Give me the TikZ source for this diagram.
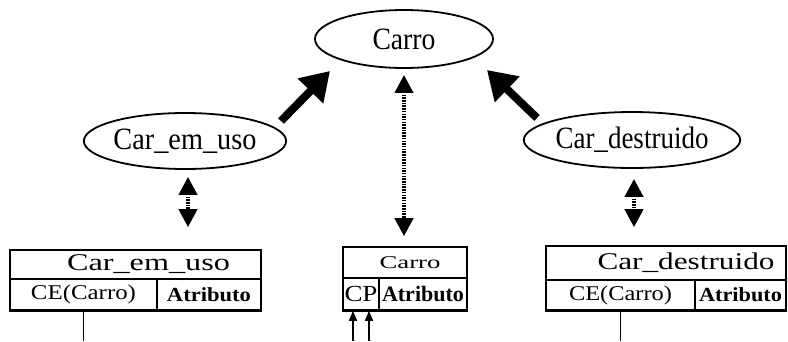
\documentclass[tikz,border=0pt]{standalone}
\usepackage{fontspec}
\setmainfont{Liberation Serif}
\usetikzlibrary{arrows.meta,shapes.geometric}
% set a label in a given font size, stretched horizontally to a given width
\newcommand{\fitto}[3]{\resizebox{#1}{\height}{\fontsize{#2}{#2}\selectfont #3}}

\begin{document}
\begin{tikzpicture}[x=1pt,y=-1pt,
  entity/.style={ellipse,draw,line width=1.8pt,inner sep=0pt},
  cell/.style={draw,rectangle,line width=1.6pt,inner sep=0pt},
  isa/.style={line width=8pt,-{Triangle[length=28pt,width=34pt]}},
  maps/.style={line width=4pt,dash pattern=on 1.5pt off 1.2pt,
    {Triangle[length=18pt,width=18pt]}-{Triangle[length=18pt,width=18pt]}},
  link/.style={line width=1.5pt},
  ref/.style={line width=1.5pt,-{Triangle[length=10pt,width=8pt]}}]
\useasboundingbox[fill=white] (0,0) rectangle (788,341);

% entity ellipses
\node[entity,minimum width=178pt,minimum height=58pt] (carro) at (404,39)
  {\fitto{63pt}{31}{Carro}};
\node[entity,minimum width=178pt,minimum height=56pt] (cu) at (185,141)
  {\fitto{143pt}{31}{Car\_em\_uso}};
\node[entity,minimum width=175pt,minimum height=56pt] (cd) at (632,140)
  {\fitto{153pt}{31}{Car\_destruido}};

% table Car_em_uso
\node[cell,minimum width=251pt,minimum height=29pt,
  label={[xshift=13pt]center:\fitto{163pt}{24}{Car\_em\_uso}}] (lhead) at (135.5,264.5) {};
\node[cell,minimum width=147pt,minimum height=31pt] (lce) at (83.5,294.5)
  {\fitto{105pt}{21}{CE(Carro)}};
\node[cell,minimum width=104pt,minimum height=31pt] (lat) at (209,294.5)
  {\fitto{84pt}{20}{\bfseries Atributo}};
\draw[line width=3pt] (lce.south west) -- (lat.south east);

% table Carro
\node[cell,minimum width=124pt,minimum height=31pt,
  label={[xshift=5pt]center:\fitto{61pt}{18}{Carro}}] (mhead) at (405,262.5) {};
\node[cell,minimum width=36pt,minimum height=32pt] (mcp) at (361,294)
  {\fitto{33pt}{23}{CP}};
\node[cell,minimum width=88pt,minimum height=32pt] (mat) at (423,294)
  {\fitto{82pt}{22}{\bfseries Atributo}};
\draw[line width=3pt] (mcp.south west) -- (mat.south east);

% table Car_destruido
\node[cell,minimum width=240pt,minimum height=34pt,
  label={[xshift=20pt]center:\fitto{177pt}{24}{Car\_destruido}}] (rhead) at (666,263) {};
\node[cell,minimum width=149pt,minimum height=30pt] (rce) at (620.5,295)
  {\fitto{103pt}{21}{CE(Carro)}};
\node[cell,minimum width=91pt,minimum height=30pt] (rat) at (740.5,295)
  {\fitto{83pt}{20}{\bfseries Atributo}};
\draw[line width=3pt] (rce.south west) -- (rat.south east);

% specialisation arrows
\coordinate (lt) at (281,121);
\coordinate (lh) at (330,71);
\coordinate (rt) at (537,118);
\coordinate (rh) at (487,70);
\draw[isa] (lt) -- (lh);
\draw[isa] (rt) -- (rh);

% entity to table mappings
\draw[maps,shorten <=6pt,shorten >=10pt] (carro.south) -- (carro.south |- mhead.north);
\draw[maps,shorten <=7pt,shorten >=22pt] ([xshift=3pt]cu.south) -- ([xshift=3pt]cu.south |- lhead.north);
\draw[maps,shorten <=10pt,shorten >=18pt] ([xshift=2pt]cd.south) -- ([xshift=2pt]cd.south |- rhead.north);

% foreign key references
\coordinate (lend) at (83.5,341);
\coordinate (rend) at (620.5,341);
\draw[link] (lce.south) -- (lend);
\draw[link] (rce.south) -- (rend);
\coordinate (k1) at (353,341);
\coordinate (k2) at (369,341);
\draw[ref] (k1) -- (k1 |- mcp.south);
\draw[ref] (k2) -- (k2 |- mcp.south);
\end{tikzpicture}
\end{document}
